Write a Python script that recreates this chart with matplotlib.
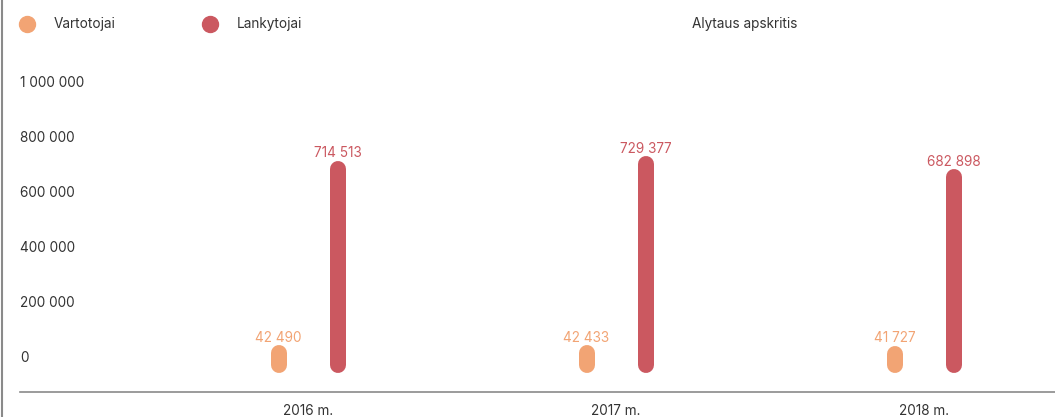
import matplotlib.pyplot as plt
import matplotlib.transforms as mtransforms
from matplotlib.lines import Line2D

years = ['2016 m.', '2017 m.', '2018 m.']
vartotojai = [42490, 42433, 41727]
lankytojai = [714513, 729377, 682898]
yticks = [0, 200000, 400000, 600000, 800000, 1000000]
ytick_labels = ['0', '200 000', '400 000', '600 000', '800 000', '1 000 000']
title = 'Alytaus apskritis'

orange = '#F2A474'
red = '#CB5860'
text_col = '#333333'
fs = 9.8

plt.rcParams['font.family'] = ['Inter', 'DejaVu Sans']

W, H = 1055, 417
fig = plt.figure(figsize=(W / 100, H / 100), dpi=100)

# axes: left at x=20px, bottom axis line at y=392px (from top), top at figure top
ax = fig.add_axes([20 / W, 25 / H, 1 - 20 / W, 392 / H])
per_px = 200000 / 55
ax.set_ylim(-27 * per_px, 365 * per_px)
ax.set_xlim((20 - 308) / 308, (1055 - 308) / 308)

off = 29.5 / 308
lw = 16 * 72 / 100
for i in range(len(years)):
    ax.plot([i - off, i - off], [0, vartotojai[i]], color=orange, lw=lw,
            solid_capstyle='round')
    ax.plot([i + off, i + off], [0, lankytojai[i]], color=red, lw=lw,
            solid_capstyle='round')
    ax.annotate(f'{vartotojai[i]:,}'.replace(',', ' '), (i - off, vartotojai[i]),
                xytext=(0, 8.5 * 0.72), textcoords='offset points', ha='center',
                va='bottom', color=orange, fontsize=fs)
    ax.annotate(f'{lankytojai[i]:,}'.replace(',', ' '), (i + off, lankytojai[i]),
                xytext=(0, 8.5 * 0.72), textcoords='offset points', ha='center',
                va='bottom', color=red, fontsize=fs)

# y labels sit inside the axes, shifted up a bit
shift = mtransforms.ScaledTranslation(0, 7 / 100, fig.dpi_scale_trans)
trans = mtransforms.blended_transform_factory(ax.transAxes, ax.transData) + shift
for v, lab in zip(yticks, ytick_labels):
    ax.text(0, v, lab, transform=trans, ha='left', va='center',
            color=text_col, fontsize=fs)
ax.set_yticks([])

ax.set_xticks(range(len(years)))
ax.set_xticklabels(years, color=text_col, fontsize=fs)
ax.tick_params(axis='x', length=0, pad=8.5)

for s in ['top', 'right', 'left']:
    ax.spines[s].set_visible(False)
ax.spines['bottom'].set_color('#8a8a8a')
ax.spines['bottom'].set_linewidth(1.2)

# left border
fig.add_artist(Line2D([2 / W, 2 / W], [0, 1], color='#8a8a8a', lw=1.5,
                      transform=fig.transFigure))

# legend
for x, c, lab in [(27, orange, 'Vartotojai'), (210, red, 'Lankytojai')]:
    fig.add_artist(Line2D([x / W], [1 - 24 / H], marker='o', markersize=11.5,
                          color=c, transform=fig.transFigure))
    fig.text((x + 27) / W, 1 - 24 / H, lab, ha='left', va='center',
             color=text_col, fontsize=fs)
fig.text(745 / W, 1 - 24 / H, title, ha='center', va='center',
         color=text_col, fontsize=fs)

fig.savefig('out.png', dpi=100)
